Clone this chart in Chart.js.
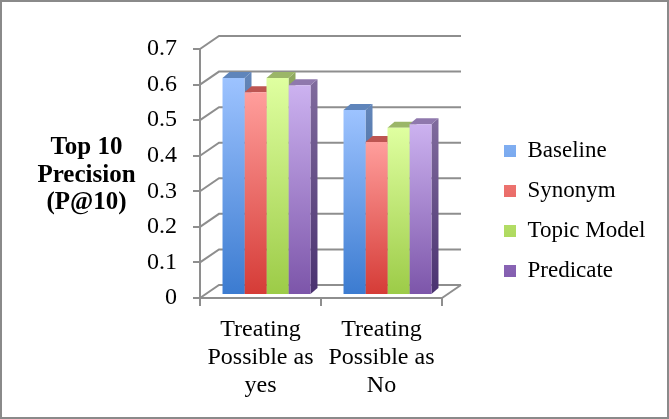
<!DOCTYPE html>
<html>
<head>
<meta charset="utf-8">
<style>
    html, body { margin: 0; padding: 0; background: #fff; }
    canvas { display: block; }
</style>
</head>
<body>
<canvas id="precisionChart" width="669" height="419"></canvas>

<script src="https://cdn.jsdelivr.net/npm/chart.js"></script>
<script>
    const categories = [['Treating', 'Possible as', 'yes'], ['Treating', 'Possible as', 'No']];
    const seriesNames = ['Baseline', 'Synonym', 'Topic Model', 'Predicate'];
    const baseline = [0.61, 0.52];
    const synonym = [0.57, 0.43];
    const topicModel = [0.61, 0.47];
    const predicate = [0.59, 0.48];
    const yTicks = ['0', '0.1', '0.2', '0.3', '0.4', '0.5', '0.6', '0.7'];
    const axisTitle = ['Top 10', 'Precision', '(P@10)'];

    // front top, front bottom, lid, side top, side bottom
    const blue = ['#9dc3ff', '#3b7bd0', '#5f85bb', '#6285b8', '#2f5288'];
    const red = ['#ff9e9c', '#d53b36', '#bd5552', '#b86260', '#8a2e2b'];
    const green = ['#dfffa0', '#9ccb47', '#9bb668', '#8fa860', '#64842c'];
    const purple = ['#ccb2f0', '#7c55a9', '#8f78ad', '#7f6a9c', '#4a3270'];

    const serif = '"Liberation Serif", serif';
    const gridColor = '#8e8e8e';

    // how far the back wall sits behind the axis plane, and the bars inside that depth
    const wallX = 19, wallY = 13;
    const barShiftX = 6, barShiftY = -3;
    const barDepthX = 7, barDepthY = 6;

    function barGradient(ctx, y0, y1, top, bottom) {
        const g = ctx.createLinearGradient(0, y0, 0, y1);
        g.addColorStop(0, top);
        g.addColorStop(1, bottom);
        return g;
    }

    function frontFill(colors) {
        return function (context) {
            const chart = context.chart;
            if (!chart.chartArea || context.parsed === undefined) return colors[0];
            const y = chart.scales.y;
            return barGradient(chart.ctx, y.getPixelForValue(context.parsed.y), y.getPixelForValue(0), colors[0], colors[1]);
        };
    }

    function makeDataset(i, values, colors) {
        return {
            label: seriesNames[i],
            data: values,
            colors: colors,
            backgroundColor: frontFill(colors),
            borderWidth: 0,
            clip: false,
            barPercentage: 1,
            categoryPercentage: 0.727
        };
    }

    // sides and lids of every bar, left to right, so the fronts drawn later cover them
    function drawBarFaces(chart) {
        const ctx = chart.ctx;
        chart.data.datasets.forEach(function (ds, i) {
            const c = ds.colors;
            chart.getDatasetMeta(i).data.forEach(function (bar) {
                const left = bar.x - bar.width / 2;
                const right = bar.x + bar.width / 2;
                ctx.fillStyle = barGradient(ctx, bar.y, bar.base, c[3], c[4]);
                ctx.beginPath();
                ctx.moveTo(right, bar.y);
                ctx.lineTo(right + barDepthX, bar.y - barDepthY);
                ctx.lineTo(right + barDepthX, bar.base - barDepthY);
                ctx.lineTo(right, bar.base);
                ctx.closePath();
                ctx.fill();
                ctx.fillStyle = c[2];
                ctx.beginPath();
                ctx.moveTo(left, bar.y);
                ctx.lineTo(left + barDepthX, bar.y - barDepthY);
                ctx.lineTo(right + barDepthX, bar.y - barDepthY);
                ctx.lineTo(right, bar.y);
                ctx.closePath();
                ctx.fill();
            });
        });
    }

    const wallPlugin = {
        id: 'wall',
        beforeLayout(chart) {
            const legend = chart.legend;
            if (legend.fitWrapped) return;
            const fit = legend.fit;
            legend.fit = function () {
                fit.call(this);
                this.width = 227;
            };
            legend.fitWrapped = true;
        },
        afterLayout(chart) {
            const legend = chart.legend;
            legend.left = 487;
            legend.top = 0;
            legend.bottom = 422;
            legend.adjustHitBoxes();
            legend.legendItems.forEach(function (item, i) {
                const box = legend.legendHitBoxes[i];
                const c = chart.data.datasets[i].colors;
                item.fillStyle = barGradient(chart.ctx, box.top + 5, box.top + box.height - 5, c[0], c[1]);
            });
        },
        beforeDraw(chart) {
            const ctx = chart.ctx;
            ctx.save();
            ctx.fillStyle = '#fff';
            ctx.fillRect(0, 0, chart.width, chart.height);
            ctx.strokeStyle = '#8a8a8a';
            ctx.lineWidth = 2;
            ctx.strokeRect(1, 1, chart.width - 2, chart.height - 2);
            ctx.restore();
        },
        beforeDatasetsDraw(chart) {
            const ctx = chart.ctx;
            const area = chart.chartArea;
            const y = chart.scales.y;
            ctx.save();
            ctx.strokeStyle = gridColor;
            ctx.lineWidth = 2;
            y.ticks.forEach(function (t) {
                const py = y.getPixelForValue(t.value);
                ctx.beginPath();
                ctx.moveTo(area.left, py);
                ctx.lineTo(area.left + wallX, py - wallY);
                ctx.lineTo(area.right + wallX, py - wallY);
                ctx.stroke();
            });
            // floor, right edge
            ctx.beginPath();
            ctx.moveTo(area.right, area.bottom);
            ctx.lineTo(area.right + wallX, area.bottom - wallY);
            ctx.stroke();
            ctx.restore();

            ctx.save();
            ctx.translate(barShiftX, barShiftY);
            drawBarFaces(chart);
        },
        afterDatasetsDraw(chart) {
            chart.ctx.restore();
        },
        afterDraw(chart) {
            const ctx = chart.ctx;
            ctx.save();
            ctx.fillStyle = '#000';
            ctx.font = 'bold 25px ' + serif;
            ctx.textAlign = 'center';
            ctx.textBaseline = 'middle';
            axisTitle.forEach(function (line, i) {
                ctx.fillText(line, 86.5, 148 + i * 27.5);
            });
            ctx.restore();
        }
    };

    new Chart(document.getElementById('precisionChart'), {
        type: 'bar',
        data: {
            labels: categories,
            datasets: [
                makeDataset(0, baseline, blue),
                makeDataset(1, synonym, red),
                makeDataset(2, topicModel, green),
                makeDataset(3, predicate, purple)
            ]
        },
        plugins: [wallPlugin],
        options: {
            responsive: false,
            animation: false,
            events: [],
            layout: { padding: { top: 49, right: 0, bottom: 0, left: 0 } },
            plugins: {
                tooltip: { enabled: false },
                legend: {
                    position: 'right',
                    labels: {
                        boxWidth: 12,
                        boxHeight: 12,
                        padding: 17,
                        color: '#000',
                        font: { family: serif, size: 23 }
                    }
                }
            },
            scales: {
                x: {
                    afterFit(scale) { scale.height = 121; },
                    border: { color: gridColor, width: 2 },
                    grid: { color: gridColor, lineWidth: 2, drawOnChartArea: false, tickLength: 8 },
                    ticks: {
                        color: '#000',
                        padding: 10,
                        maxRotation: 0,
                        autoSkip: false,
                        font: { family: serif, size: 24, lineHeight: 1.16 }
                    }
                },
                y: {
                    min: 0,
                    max: 0.7,
                    afterFit(scale) { scale.width = 200; },
                    border: { color: gridColor, width: 2 },
                    grid: { color: gridColor, lineWidth: 2, drawOnChartArea: false, tickLength: 7 },
                    ticks: {
                        stepSize: 0.1,
                        color: '#000',
                        padding: 16,
                        font: { family: serif, size: 24 },
                        callback: function (value, index) { return yTicks[index]; }
                    }
                }
            }
        }
    });
</script>
</body>
</html>
